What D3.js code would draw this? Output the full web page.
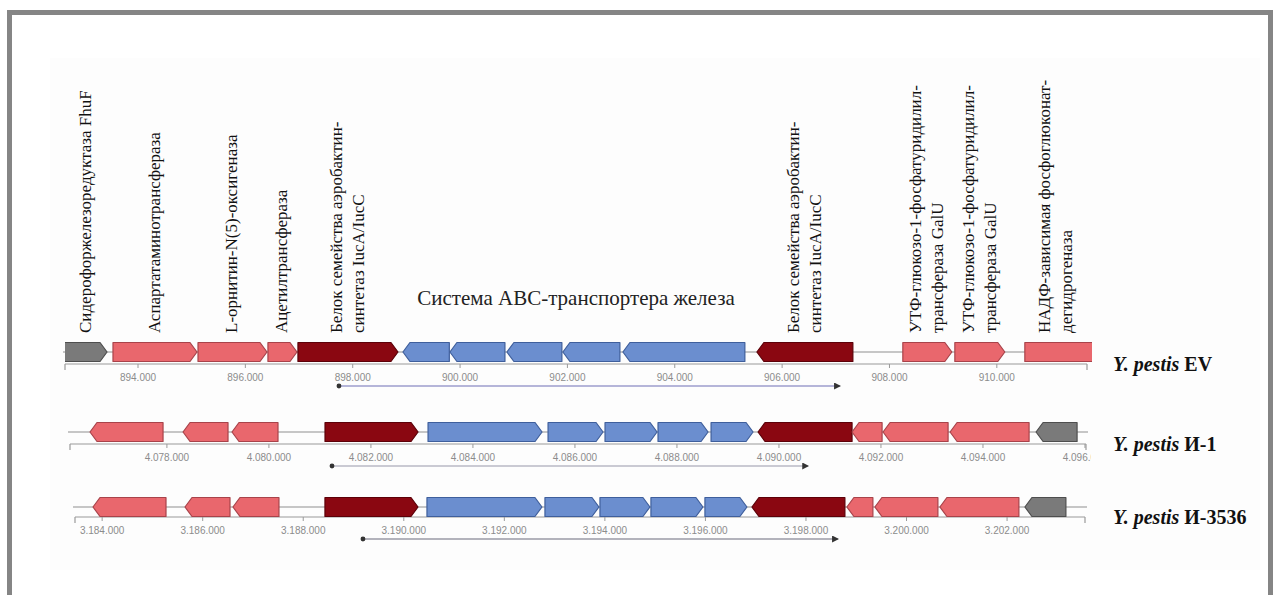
<!DOCTYPE html>
<html>
<head>
<meta charset="utf-8">
<script src="https://cdn.jsdelivr.net/npm/d3@7"></script>
<style>
  body { margin: 0; background: #fff; }
  svg { display: block; }
</style>
</head>
<body>
<svg id="chart" width="1278" height="595"></svg>
<script>
// Gene tracks: [start, end, strand, kind]
const evGenes = [
  [892500, 893423, 1, "other"],
  [893534, 895099, 1, "flank"],
  [895118, 896403, 1, "flank"],
  [896421, 896962, 1, "flank"],
  [896980, 898843, 1, "iuc"],
  [898936, 899800, -1, "abc"],
  [899811, 900836, -1, "abc"],
  [900873, 901897, -1, "abc"],
  [901916, 902978, -1, "abc"],
  [903034, 905306, -1, "abc"],
  [905530, 907318, -1, "iuc"],
  [908249, 909162, 1, "flank"],
  [909218, 910149, 1, "flank"],
  [910522, 912100, 1, "flank"]
];
const i1Genes = [
  [4076492, 4077924, -1, "flank"],
  [4078316, 4079198, -1, "flank"],
  [4079276, 4080178, -1, "flank"],
  [4081100, 4082924, 1, "iuc"],
  [4083120, 4085355, 1, "abc"],
  [4085473, 4086551, 1, "abc"],
  [4086590, 4087610, 1, "abc"],
  [4087629, 4088610, 1, "abc"],
  [4088669, 4089492, 1, "abc"],
  [4089590, 4091433, -1, "iuc"],
  [4091433, 4092022, -1, "flank"],
  [4092041, 4093316, -1, "flank"],
  [4093355, 4094904, -1, "flank"],
  [4095041, 4095845, -1, "other"]
];
const i3536Genes = [
  [3183818, 3185270, -1, "flank"],
  [3185648, 3186543, -1, "flank"],
  [3186602, 3187517, -1, "flank"],
  [3188432, 3190282, 1, "iuc"],
  [3190461, 3192748, 1, "abc"],
  [3192808, 3193882, 1, "abc"],
  [3193902, 3194896, 1, "abc"],
  [3194916, 3195950, 1, "abc"],
  [3195990, 3196825, 1, "abc"],
  [3196925, 3198774, -1, "iuc"],
  [3198814, 3199331, -1, "flank"],
  [3199371, 3200624, -1, "flank"],
  [3200664, 3202235, -1, "flank"],
  [3202355, 3203170, -1, "other"]
];

// Visible genomic window of each track
const evDomain = [892640, 911680];
const i1Domain = [4076100, 4096020];
const i3536Domain = [3183460, 3203550];

// Extent of the ABC-transporter locus on each genome
const evLocus = [897744, 907076];
const i1Locus = [4081237, 4090571];
const i3536Locus = [3189188, 3198635];

// Strain names
const strainNames = ["EV", "И-1", "И-3536"];

// Protein annotations for the EV track (index into evGenes, text lines)
const evLabelGene = [0, 1, 2, 3, 4, 10, 11, 12, 13];
const evLabelText = [
  ["Сидерофоржелезоредуктаза FhuF"],
  ["Аспартатаминотрансфераза"],
  ["L-орнитин-N(5)-оксигеназа"],
  ["Ацетилтрансфераза"],
  ["Белок семейства аэробактин-", "синтетаз IucA/IucC"],
  ["Белок семейства аэробактин-", "синтетаз IucA/IucC"],
  ["УТФ-глюкозо-1-фосфатуридилил-", "трансфераза GalU"],
  ["УТФ-глюкозо-1-фосфатуридилил-", "трансфераза GalU"],
  ["НАДФ-зависимая фосфоглюконат-", "дегидрогеназа"]
];
const locusTitle = "Система ABC-транспортера железа";

const fill = { flank: "#e9676d", iuc: "#8a0711", abc: "#6b8ecf", other: "#7a7a7a" };
const edge = { flank: "#a8434a", iuc: "#5c0008", abc: "#3f5f9c", other: "#4e4e4e" };

const svg = d3.select("#chart");
const fmt = d3.formatLocale({ decimal: ",", thousands: ".", grouping: [3], currency: ["", ""] }).format(",d");

// Outer frame and figure panel
svg.append("rect").attr("x", 50).attr("y", 58).attr("width", 1210).attr("height", 512).attr("fill", "#fdfdfd");
const frame = svg.append("g").attr("fill", "#858585");
frame.append("rect").attr("x", 7).attr("y", 10).attr("width", 1266).attr("height", 5);
frame.append("rect").attr("x", 7).attr("y", 10).attr("width", 5).attr("height", 585);
frame.append("rect").attr("x", 1268).attr("y", 10).attr("width", 5).attr("height", 585);

const defs = svg.append("defs");
defs.append("marker").attr("id", "tip").attr("viewBox", "0 0 6 6").attr("refX", 5).attr("refY", 3)
  .attr("markerWidth", 5).attr("markerHeight", 5).attr("orient", "auto")
  .append("path").attr("d", "M0,0L6,3L0,6Z").attr("fill", "#333");
defs.append("marker").attr("id", "dot").attr("viewBox", "0 0 6 6").attr("refX", 3).attr("refY", 3)
  .attr("markerWidth", 4).attr("markerHeight", 4)
  .append("circle").attr("cx", 3).attr("cy", 3).attr("r", 2.6).attr("fill", "#333");

function genePath(x0, x1, yc, h, strand) {
  const hd = Math.min(7, (x1 - x0) * 0.5);
  const t = yc - h / 2, b = yc + h / 2;
  if (strand > 0) {
    return `M${x0},${t}L${x1 - hd},${t}L${x1},${yc}L${x1 - hd},${b}L${x0},${b}Z`;
  }
  return `M${x1},${t}L${x0 + hd},${t}L${x0},${yc}L${x0 + hd},${b}L${x1},${b}Z`;
}

const tracks = [
  { genes: evGenes, domain: evDomain, locus: evLocus, range: [65, 1087], yc: 352, axisOff: 12, lineColor: "#9d9dcc", name: strainNames[0] },
  { genes: i1Genes, domain: i1Domain, locus: i1Locus, range: [70, 1086], yc: 432, axisOff: 12, lineColor: "#b9b9c4", name: strainNames[1] },
  { genes: i3536Genes, domain: i3536Domain, locus: i3536Locus, range: [75, 1085], yc: 507, axisOff: 10, lineColor: "#9a9aa6", name: strainNames[2] }
];

const geneH = 19;

tracks.forEach((tr, ti) => {
  const x = d3.scaleLinear().domain(tr.domain).range(tr.range);
  tr.x = x;
  const g = svg.append("g");
  const clipId = "clip" + ti;
  defs.append("clipPath").attr("id", clipId).append("rect")
    .attr("x", tr.range[0]).attr("y", tr.yc - 40).attr("width", tr.range[1] - tr.range[0] + 5).attr("height", 80);

  // backbone
  g.append("line").attr("x1", tr.range[0] - 2).attr("x2", tr.range[1] + 2)
    .attr("y1", tr.yc).attr("y2", tr.yc).attr("stroke", "#b3b3b3").attr("stroke-width", 1.5);

  // ruler
  const ay = tr.yc + tr.axisOff;
  const ruler = g.append("g").attr("clip-path", `url(#${clipId})`);
  ruler.append("line").attr("x1", tr.range[0]).attr("x2", tr.range[1]).attr("y1", ay).attr("y2", ay)
    .attr("stroke", "#9a9a9a").attr("stroke-width", 1.2);
  [tr.range[0], tr.range[1]].forEach(px => {
    g.append("line").attr("x1", px).attr("x2", px).attr("y1", ay).attr("y2", ay + 6)
      .attr("stroke", "#9a9a9a").attr("stroke-width", 1.2);
  });
  const ticks = d3.range(Math.ceil(tr.domain[0] / 2000) * 2000, tr.domain[1] + 1, 2000);
  ruler.selectAll(".tk").data(ticks).join("line")
    .attr("x1", d => x(d)).attr("x2", d => x(d)).attr("y1", ay).attr("y2", ay + 4)
    .attr("stroke", "#9a9a9a").attr("stroke-width", 1);
  ruler.selectAll(".tl").data(ticks).join("text")
    .attr("x", d => x(d)).attr("y", ay + 17).attr("text-anchor", "middle")
    .attr("font-family", "Liberation Sans, Arial, sans-serif").attr("font-size", 10)
    .attr("fill", "#8c8c8c").text(d => fmt(d));

  // genes
  g.append("g").attr("clip-path", `url(#${clipId})`)
    .selectAll("path").data(tr.genes).join("path")
    .attr("d", d => genePath(x(d[0]), x(d[1]), tr.yc, geneH, d[2]))
    .attr("fill", d => fill[d[3]]).attr("stroke", d => edge[d[3]]).attr("stroke-width", 1.2)
    .attr("stroke-linejoin", "round");

  // ABC locus span
  const ly = ay + 22;
  g.append("line").attr("x1", x(tr.locus[0])).attr("x2", x(tr.locus[1]))
    .attr("y1", ly).attr("y2", ly).attr("stroke", tr.lineColor).attr("stroke-width", 1.4)
    .attr("marker-start", "url(#dot)").attr("marker-end", "url(#tip)");

  // strain name
  const nt = svg.append("text").attr("x", 1113).attr("y", ay + 7)
    .attr("font-family", "Liberation Serif, Times New Roman, serif").attr("font-size", 20)
    .attr("font-weight", "bold").attr("fill", "#111");
  nt.append("tspan").attr("font-style", "italic").text("Y. pestis");
  nt.append("tspan").text(" " + tr.name);
});

// Vertical protein labels above the EV track
const ev = tracks[0];
const lab = svg.append("g").attr("font-family", "Liberation Serif, Times New Roman, serif")
  .attr("font-size", 17).attr("fill", "#111");
evLabelGene.forEach((gi, li) => {
  const gd = evGenes[gi];
  const a = Math.max(ev.x(gd[0]), ev.range[0]);
  const b = Math.min(ev.x(gd[1]), ev.range[1]);
  const c = (a + b) / 2;
  const lines = evLabelText[li];
  lines.forEach((t, k) => {
    const cx = c + (k - (lines.length - 1) / 2) * 22 + 5;
    lab.append("text").attr("transform", `translate(${cx},333) rotate(-90)`).text(t);
  });
});

// Locus title
svg.append("text").attr("x", 576).attr("y", 305)
  .attr("text-anchor", "middle").attr("font-family", "Liberation Serif, Times New Roman, serif")
  .attr("font-size", 21).attr("fill", "#222").text(locusTitle);
</script>
</body>
</html>
